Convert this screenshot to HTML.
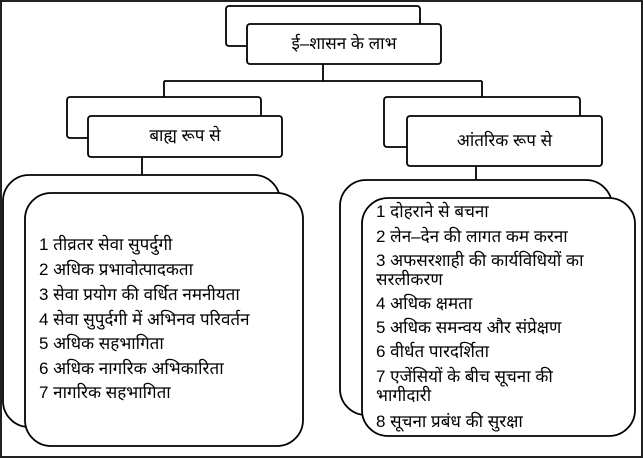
<!DOCTYPE html>
<html><head><meta charset="utf-8"><style>
body{margin:0;width:643px;height:458px;position:relative;background:#fff;overflow:hidden;font-family:"Liberation Sans","Noto Sans CJK SC",sans-serif;}
svg{position:absolute;left:0;top:0}
.t{position:absolute;font-size:17px;line-height:20px;color:#000;white-space:nowrap;font-family:"Liberation Sans","Noto Sans CJK SC","DejaVu Sans",sans-serif;}
.c{text-align:center}
</style></head><body>
<svg width="643" height="458" fill="#fff" stroke="#000" stroke-width="1.8">
<rect x="1" y="1" width="641" height="456" fill="none" stroke="#222" stroke-width="2"/>
<rect x="226" y="6" width="194" height="40" rx="3"/>
<rect x="247" y="24" width="194" height="40" rx="3"/>
<path d="M323 64V81M164 81H482M164 81V97M482 81V97" fill="none"/>
<rect x="67" y="97" width="194" height="41" rx="3"/>
<rect x="88" y="116" width="194" height="41" rx="3"/>
<rect x="384" y="97" width="196" height="50" rx="3"/>
<rect x="407" y="116" width="195" height="50" rx="3"/>
<path d="M142 157V175M476 166V180" fill="none"/>
<rect x="3" y="175" width="277" height="252" rx="26"/>
<rect x="25" y="193" width="278" height="253" rx="26"/>
<rect x="340" y="180" width="272" height="235" rx="26"/>
<rect x="362" y="198" width="273" height="238" rx="26"/>
</svg>
<div class="t c" style="left:247px;top:34px;width:194px">ई–शासन के लाभ</div>
<div class="t c" style="left:88px;top:126px;width:194px">बाह्य रूप से</div>
<div class="t c" style="left:407px;top:131px;width:195px">आंतरिक रूप से</div>
<div class="t" style="left:39px;top:235px">1 तीव्रतर सेवा सुपर्दुगी</div>
<div class="t" style="left:39px;top:260px">2 अधिक प्रभावोत्पादकता</div>
<div class="t" style="left:39px;top:285px">3 सेवा प्रयोग की वर्धित नमनीयता</div>
<div class="t" style="left:39px;top:310px">4 सेवा सुपुर्दगी में अभिनव परिवर्तन</div>
<div class="t" style="left:39px;top:334px">5 अधिक सहभागिता</div>
<div class="t" style="left:39px;top:359px">6 अधिक नागरिक अभिकारिता</div>
<div class="t" style="left:39px;top:383px">7 नागरिक सहभागिता</div>
<div class="t" style="left:376px;top:202px">1 दोहराने से बचना</div>
<div class="t" style="left:376px;top:227px">2 लेन–देन की लागत कम करना</div>
<div class="t" style="left:376px;top:251px">3 अफसरशाही की कार्यविधियों का</div>
<div class="t" style="left:376px;top:270px">सरलीकरण</div>
<div class="t" style="left:376px;top:294px">4 अधिक क्षमता</div>
<div class="t" style="left:376px;top:318px">5 अधिक समन्वय और संप्रेक्षण</div>
<div class="t" style="left:376px;top:342px">6 वीर्धत पारदर्शिता</div>
<div class="t" style="left:376px;top:367px">7 एजेंसियों के बीच सूचना की</div>
<div class="t" style="left:376px;top:386px">भागीदारी</div>
<div class="t" style="left:376px;top:412px">8 सूचना प्रबंध की सुरक्षा</div>
</body></html>
